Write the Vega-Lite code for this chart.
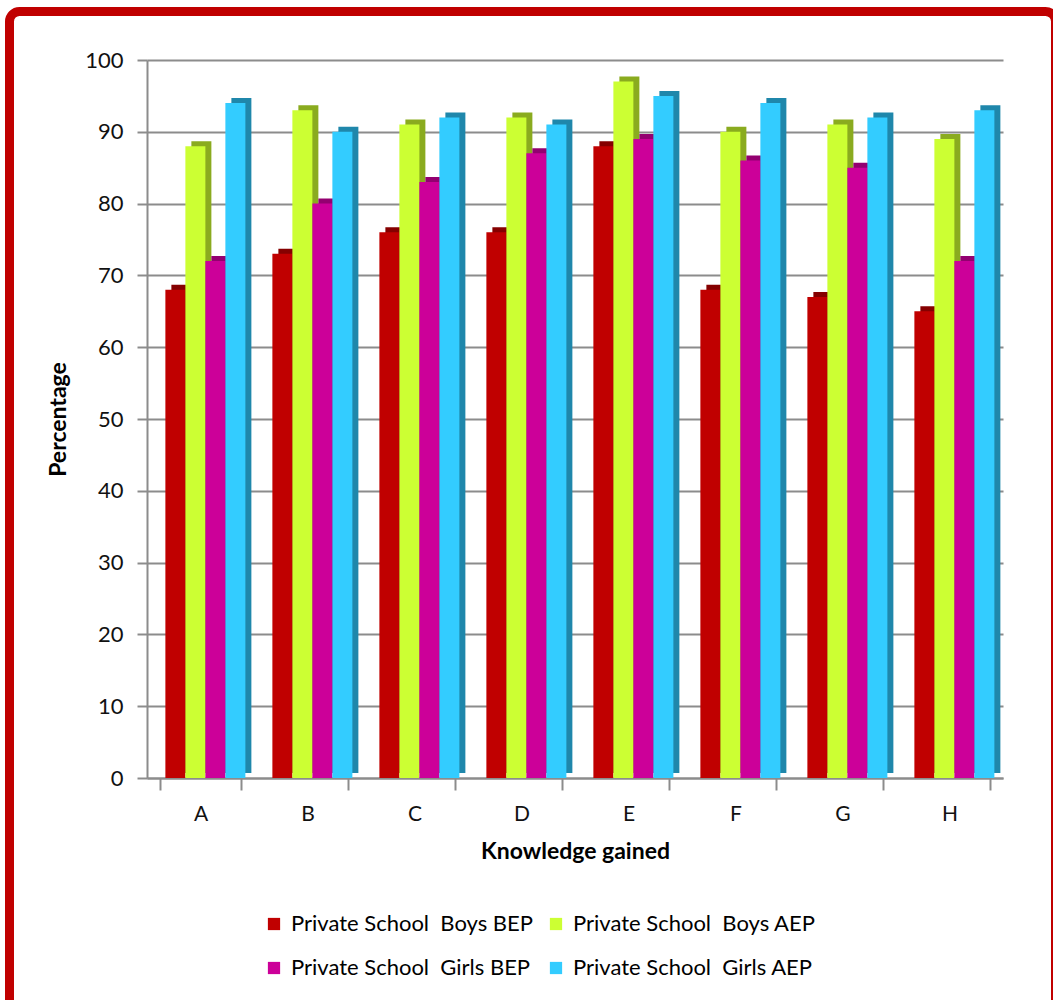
{
  "$schema": "https://vega.github.io/schema/vega-lite/v6.json",
  "autosize": "none",
  "width": 873,
  "height": 718,
  "padding": {"left": 147, "top": 60, "right": 33, "bottom": 222},
  "background": "white",
  "config": {
    "font": "Lato",
    "view": {"stroke": null},
    "axis": {"labelFont": "Lato", "titleFont": "Lato", "labelColor": "#111", "titleColor": "#000", "domainColor": "#8c8c8c", "tickColor": "#8c8c8c", "gridColor": "#8c8c8c", "domainWidth": 2, "tickWidth": 2, "gridWidth": 2}
  },
  "datasets": {
    "scores": [
      {"cat": "A", "series": "Private School\u00a0 Boys BEP", "value": 68},
      {"cat": "A", "series": "Private School\u00a0 Boys AEP", "value": 88},
      {"cat": "A", "series": "Private School\u00a0 Girls BEP", "value": 72},
      {"cat": "A", "series": "Private School\u00a0 Girls AEP", "value": 94},
      {"cat": "B", "series": "Private School\u00a0 Boys BEP", "value": 73},
      {"cat": "B", "series": "Private School\u00a0 Boys AEP", "value": 93},
      {"cat": "B", "series": "Private School\u00a0 Girls BEP", "value": 80},
      {"cat": "B", "series": "Private School\u00a0 Girls AEP", "value": 90},
      {"cat": "C", "series": "Private School\u00a0 Boys BEP", "value": 76},
      {"cat": "C", "series": "Private School\u00a0 Boys AEP", "value": 91},
      {"cat": "C", "series": "Private School\u00a0 Girls BEP", "value": 83},
      {"cat": "C", "series": "Private School\u00a0 Girls AEP", "value": 92},
      {"cat": "D", "series": "Private School\u00a0 Boys BEP", "value": 76},
      {"cat": "D", "series": "Private School\u00a0 Boys AEP", "value": 92},
      {"cat": "D", "series": "Private School\u00a0 Girls BEP", "value": 87},
      {"cat": "D", "series": "Private School\u00a0 Girls AEP", "value": 91},
      {"cat": "E", "series": "Private School\u00a0 Boys BEP", "value": 88},
      {"cat": "E", "series": "Private School\u00a0 Boys AEP", "value": 97},
      {"cat": "E", "series": "Private School\u00a0 Girls BEP", "value": 89},
      {"cat": "E", "series": "Private School\u00a0 Girls AEP", "value": 95},
      {"cat": "F", "series": "Private School\u00a0 Boys BEP", "value": 68},
      {"cat": "F", "series": "Private School\u00a0 Boys AEP", "value": 90},
      {"cat": "F", "series": "Private School\u00a0 Girls BEP", "value": 86},
      {"cat": "F", "series": "Private School\u00a0 Girls AEP", "value": 94},
      {"cat": "G", "series": "Private School\u00a0 Boys BEP", "value": 67},
      {"cat": "G", "series": "Private School\u00a0 Boys AEP", "value": 91},
      {"cat": "G", "series": "Private School\u00a0 Girls BEP", "value": 85},
      {"cat": "G", "series": "Private School\u00a0 Girls AEP", "value": 92},
      {"cat": "H", "series": "Private School\u00a0 Boys BEP", "value": 65},
      {"cat": "H", "series": "Private School\u00a0 Boys AEP", "value": 89},
      {"cat": "H", "series": "Private School\u00a0 Girls BEP", "value": 72},
      {"cat": "H", "series": "Private School\u00a0 Girls AEP", "value": 93}
    ]
  },
  "layer": [
    {
      "data": {"values": [{"frame": 1}]},
      "mark": {"type": "rect", "x": -137.5, "x2": 908.5, "y": -48.5, "y2": 950, "fill": null, "stroke": "#c00000", "strokeWidth": 9, "cornerRadius": 10}
    },
    {
      "data": {"name": "scores"},
      "mark": {"type": "bar", "yOffset": -5},
      "encoding": {
        "x": {"field": "cat", "type": "nominal", "scale": {"range": [0, 856], "paddingInner": 0.25, "paddingOuter": 0.125},
              "axis": {"title": "Knowledge gained", "titleFontSize": 23, "titleFontWeight": "bold", "titlePadding": 16, "labelFontSize": 21, "labelAngle": 0, "labelPadding": 13, "tickBand": "extent", "tickSize": 12, "grid": false}},
        "xOffset": {"field": "series", "type": "nominal", "sort": null, "scale": {"range": [11, 91], "paddingInner": 0, "paddingOuter": 0}},
        "y": {"field": "value", "type": "quantitative", "scale": {"domain": [0, 100]},
              "axis": {"title": "Percentage", "titleFontSize": 23, "titleFontWeight": "bold", "titlePadding": 14, "labelFontSize": 22, "labelPadding": 14, "tickSize": 10, "values": [0, 10, 20, 30, 40, 50, 60, 70, 80, 90, 100], "grid": true}},
        "color": {"field": "series", "type": "nominal", "sort": null, "legend": null,
                  "scale": {"range": ["#850000", "#8aab1f", "#930070", "#1f87ab"]}}
      }
    },
    {
      "data": {"name": "scores"},
      "mark": {"type": "bar"},
      "encoding": {
        "x": {"field": "cat", "type": "nominal"},
        "xOffset": {"field": "series", "type": "nominal", "sort": null, "scale": {"range": [5, 85], "paddingInner": 0, "paddingOuter": 0}},
        "y": {"field": "value", "type": "quantitative"},
        "color": {"field": "series", "type": "nominal", "sort": null,
                  "scale": {"range": ["#c00000", "#ccff33", "#cc0099", "#33ccff"]},
                  "legend": {"title": null, "orient": "none", "legendX": 116, "legendY": 853, "columns": 2, "direction": "horizontal",
                             "symbolType": "square", "symbolSize": 150, "symbolStrokeWidth": 0, "labelFontSize": 22, "labelFont": "Lato", "labelColor": "#000",
                             "labelLimit": 400, "labelOffset": 6, "rowPadding": 22, "columnPadding": 12, "padding": 0}}
      }
    }
  ],
  "resolve": {"scale": {"color": "independent", "xOffset": "independent"}}
}
